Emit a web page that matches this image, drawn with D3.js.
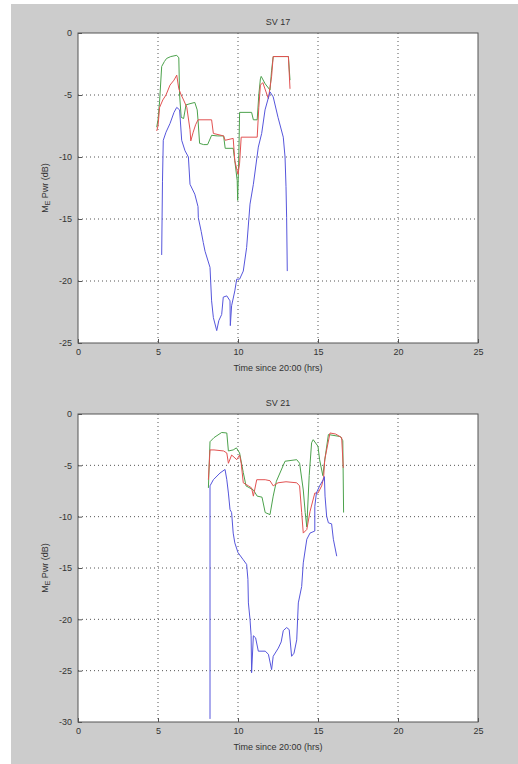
<!DOCTYPE html>
<html>
<head>
<meta charset="utf-8">
<script src="https://cdn.jsdelivr.net/npm/d3@7"></script>
<style>
  html, body { margin: 0; padding: 0; background: #ffffff; }
  svg { display: block; }
  text { font-family: "Liberation Sans", Arial, sans-serif; fill: #333; }
</style>
</head>
<body>
<svg id="fig" width="518" height="764"></svg>
<script>
// Tick values
const xTicks = [0, 5, 10, 15, 20, 25];
const yTicksSV17 = [0, -5, -10, -15, -20, -25];
const yTicksSV21 = [0, -5, -10, -15, -20, -25, -30];

// SV 17 series: [time (hrs), power (dB)]
const sv17Green = [[4.92,-7.6],[5.0,-7.0],[5.1,-5.5],[5.23,-2.7],[5.4,-2.3],[5.54,-2.05],[5.8,-1.9],[6.17,-1.8],[6.3,-2.0],[6.35,-5.0],[6.45,-6.8],[6.6,-6.9],[6.75,-5.8],[7.0,-5.7],[7.3,-5.6],[7.45,-6.2],[7.5,-7.0],[7.6,-8.9],[7.85,-9.0],[8.1,-9.0],[8.35,-8.25],[8.7,-8.3],[9.1,-8.3],[9.2,-9.3],[9.7,-9.3],[9.8,-10.3],[9.95,-11.9],[9.98,-13.5],[10.05,-10.0],[10.1,-6.4],[10.85,-6.4],[10.96,-7.0],[11.2,-7.0],[11.3,-5.0],[11.4,-3.7],[11.45,-3.5],[11.7,-4.1],[12.0,-4.6],[12.1,-3.0],[12.2,-1.9],[13.15,-1.9],[13.25,-3.8]];
const sv17Red = [[4.92,-7.9],[5.0,-7.5],[5.1,-6.0],[5.3,-5.4],[5.5,-5.0],[5.75,-4.2],[6.0,-3.8],[6.17,-3.4],[6.3,-4.5],[6.45,-5.0],[6.6,-5.4],[6.8,-6.0],[7.0,-7.8],[7.05,-8.7],[7.2,-8.0],[7.35,-7.4],[7.5,-7.0],[8.35,-7.0],[8.46,-8.1],[9.1,-8.3],[9.2,-8.65],[9.7,-8.5],[9.8,-10.3],[10.0,-11.4],[10.1,-10.5],[10.2,-8.4],[11.2,-8.4],[11.3,-6.0],[11.4,-4.2],[11.55,-4.0],[11.9,-5.3],[12.1,-3.5],[12.2,-1.9],[13.15,-1.9],[13.25,-4.5]];
const sv17Blue = [[5.23,-17.9],[5.28,-12.0],[5.33,-8.65],[5.5,-8.0],[5.75,-7.3],[6.0,-6.4],[6.17,-6.0],[6.35,-6.2],[6.48,-8.65],[6.69,-9.5],[6.9,-10.0],[7.0,-12.2],[7.3,-13.0],[7.5,-14.0],[7.52,-14.9],[7.7,-16.0],[7.83,-16.9],[7.94,-17.6],[8.25,-18.9],[8.35,-21.6],[8.46,-22.95],[8.67,-24.0],[8.8,-23.2],[8.98,-22.7],[9.08,-21.3],[9.3,-21.2],[9.5,-21.6],[9.52,-23.6],[9.6,-22.0],[9.8,-20.8],[9.92,-19.85],[10.1,-19.85],[10.33,-19.2],[10.54,-17.3],[10.75,-13.8],[10.96,-12.2],[11.27,-9.2],[11.48,-8.1],[11.69,-6.2],[12.0,-4.75],[12.2,-5.15],[12.5,-6.8],[12.83,-8.4],[12.94,-10.0],[13.0,-12.4],[13.04,-14.9],[13.08,-19.2]];

// SV 21 series: [time (hrs), power (dB)]
const sv21Green = [[8.15,-7.2],[8.25,-2.7],[8.5,-2.3],[8.98,-1.8],[9.3,-1.85],[9.4,-3.6],[9.7,-3.5],[9.9,-3.3],[10.1,-3.8],[10.33,-5.7],[10.5,-7.0],[10.96,-7.4],[11.2,-8.0],[11.5,-8.1],[11.7,-9.6],[12.0,-9.8],[12.2,-8.0],[12.4,-6.55],[12.94,-4.6],[13.67,-4.45],[13.85,-4.8],[14.08,-7.4],[14.2,-9.6],[14.3,-11.0],[14.45,-6.0],[14.6,-2.8],[14.7,-2.5],[15.0,-3.15],[15.1,-4.45],[15.3,-6.0],[15.44,-4.3],[15.65,-2.0],[16.4,-2.2],[16.55,-2.6],[16.6,-9.6]];
const sv21Red = [[8.15,-6.4],[8.25,-3.5],[8.5,-3.5],[9.1,-3.6],[9.3,-3.8],[9.4,-4.8],[9.6,-4.0],[9.75,-4.2],[9.92,-4.45],[10.1,-4.0],[10.2,-4.8],[10.33,-6.7],[10.65,-7.0],[10.85,-7.2],[10.96,-8.0],[11.17,-6.4],[11.7,-6.4],[12.0,-6.5],[12.2,-7.0],[12.5,-6.7],[13.0,-6.6],[13.67,-6.7],[13.85,-7.0],[13.98,-9.6],[14.08,-11.6],[14.3,-11.25],[14.5,-9.5],[14.8,-7.7],[15.0,-7.7],[15.23,-7.0],[15.35,-6.2],[15.42,-4.45],[15.75,-1.85],[16.1,-1.95],[16.48,-2.3],[16.58,-5.25]];
const sv21Blue = [[8.25,-29.7],[8.25,-7.0],[8.46,-6.4],[8.875,-5.75],[9.19,-5.4],[9.3,-6.4],[9.4,-7.7],[9.5,-9.3],[9.6,-9.6],[9.7,-11.6],[9.8,-12.55],[10.0,-13.5],[10.33,-14.2],[10.54,-14.65],[10.62,-16.1],[10.65,-18.4],[10.75,-20.0],[10.82,-21.6],[10.85,-25.2],[10.96,-21.6],[11.1,-21.8],[11.27,-23.1],[11.7,-23.1],[11.9,-23.4],[12.1,-24.9],[12.2,-23.6],[12.52,-22.8],[12.7,-22.2],[12.83,-21.1],[13.04,-20.8],[13.2,-21.0],[13.35,-23.6],[13.5,-23.3],[13.67,-22.0],[13.77,-18.4],[13.98,-16.8],[14.08,-14.5],[14.3,-12.2],[14.5,-11.6],[14.8,-11.4],[14.8,-9.0],[14.9,-7.7],[15.1,-7.0],[15.33,-6.4],[15.4,-6.1],[15.44,-8.0],[15.54,-9.95],[15.65,-10.6],[15.85,-10.7],[15.96,-12.2],[16.17,-13.85]];

const svg = d3.select("#fig");

// figure background
svg.append("rect").attr("x", 11).attr("y", 4).attr("width", 507).attr("height", 760).attr("fill", "#cccccc");

const colors = { blue: "#5656dc", green: "#4ca24c", red: "#e25252" };
const fmt = d => String(d);

function panel(opts) {
  const { top, bottom, left, right, yDomain, yTicks, title, series } = opts;
  const x = d3.scaleLinear().domain([0, 25]).range([left, right]);
  const y = d3.scaleLinear().domain(yDomain).range([bottom, top]);
  const g = svg.append("g");

  g.append("rect").attr("x", left).attr("y", top)
    .attr("width", right - left).attr("height", bottom - top).attr("fill", "#ffffff");

  // dotted grid
  g.append("g").selectAll("line").data(xTicks.slice(1, -1)).join("line")
    .attr("x1", d => x(d)).attr("x2", d => x(d)).attr("y1", top).attr("y2", bottom)
    .attr("stroke", "#555").attr("stroke-width", 1).attr("stroke-dasharray", "1,3");
  g.append("g").selectAll("line").data(yTicks.slice(1, -1)).join("line")
    .attr("y1", d => y(d)).attr("y2", d => y(d)).attr("x1", left).attr("x2", right)
    .attr("stroke", "#555").attr("stroke-width", 1).attr("stroke-dasharray", "1,3");

  // series
  const line = d3.line().x(d => x(d[0])).y(d => y(d[1]));
  series.forEach(s => {
    g.append("path").datum(s.data).attr("d", line)
      .attr("fill", "none").attr("stroke", s.color).attr("stroke-width", 1)
      .attr("stroke-linejoin", "round");
  });

  // axes
  const xAxis = d3.axisBottom(x).tickValues(xTicks).tickFormat(fmt).tickSizeInner(-4).tickSizeOuter(0).tickPadding(6);
  const yAxis = d3.axisLeft(y).tickValues(yTicks).tickFormat(fmt).tickSizeInner(-4).tickSizeOuter(0).tickPadding(6);
  const ax = g.append("g").attr("transform", `translate(0,${bottom})`).call(xAxis);
  const ay = g.append("g").attr("transform", `translate(${left},0)`).call(yAxis);
  [ax, ay].forEach(a => {
    a.select(".domain").remove();
    a.selectAll(".tick line").attr("stroke", "#555");
    a.selectAll(".tick text").attr("font-size", 9).attr("fill", "#333")
      .attr("font-family", "Liberation Sans, Arial, sans-serif");
  });

  // box
  g.append("rect").attr("x", left).attr("y", top)
    .attr("width", right - left).attr("height", bottom - top)
    .attr("fill", "none").attr("stroke", "#555").attr("stroke-width", 1);

  // title
  g.append("text").attr("x", (left + right) / 2).attr("y", top - 8)
    .attr("text-anchor", "middle").attr("font-size", 9).text(title);

  // x label
  g.append("text").attr("x", (left + right) / 2).attr("y", bottom + 28)
    .attr("text-anchor", "middle").attr("font-size", 9).text("Time since 20:00 (hrs)");

  // y label with subscript
  const yl = g.append("text")
    .attr("transform", `translate(48,${(top + bottom) / 2}) rotate(-90)`)
    .attr("text-anchor", "middle").attr("font-size", 9);
  yl.append("tspan").text("M");
  yl.append("tspan").attr("font-size", 7).attr("dy", 2).text("E");
  yl.append("tspan").attr("dy", -2).text(" Pwr (dB)");
}

panel({
  top: 33, bottom: 343, left: 78, right: 478,
  yDomain: [-25, 0], yTicks: yTicksSV17, title: "SV 17",
  series: [
    { data: sv17Green, color: colors.green },
    { data: sv17Red, color: colors.red },
    { data: sv17Blue, color: colors.blue }
  ]
});

panel({
  top: 414, bottom: 722, left: 78, right: 478,
  yDomain: [-30, 0], yTicks: yTicksSV21, title: "SV 21",
  series: [
    { data: sv21Green, color: colors.green },
    { data: sv21Red, color: colors.red },
    { data: sv21Blue, color: colors.blue }
  ]
});
</script>
</body>
</html>
